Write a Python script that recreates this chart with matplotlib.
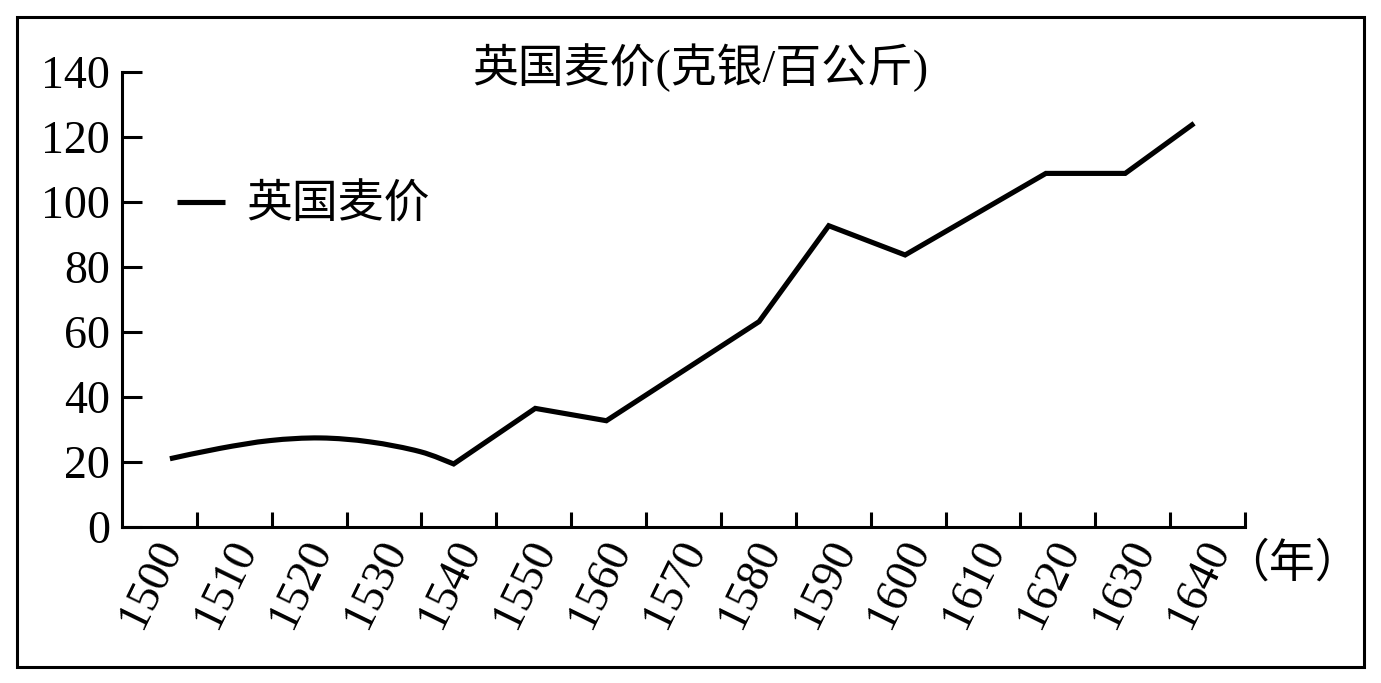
import matplotlib
matplotlib.use("Agg")
import matplotlib.pyplot as plt
from matplotlib.patches import Rectangle, PathPatch
from matplotlib.path import Path
from matplotlib.lines import Line2D
from matplotlib.transforms import ScaledTranslation, blended_transform_factory

# ---- data ----
year_pos = [1496.4, 1503.1, 1509.8, 1516.5, 1523.1, 1529.8, 1534.3,
            1545.2, 1554.7, 1575.1, 1584.4, 1594.6, 1613.4, 1624.0, 1633.2]
price = [21.0, 24.2, 26.6, 27.4, 26.2, 23.2, 19.4,
         36.5, 32.7, 63.2, 92.7, 83.7, 108.8, 108.8, 124.2]
n_smooth = 7  # the first points form a smooth arc in the reference
x_ticks = list(range(1500, 1641, 10))
x_labels = [str(v) for v in x_ticks]
y_ticks = list(range(0, 141, 20))
series_name = "英国麦价"
title = "英国麦价(克银/百公斤)"
x_unit = "（年）"

W, H = 1381, 683
fig = plt.figure(figsize=(W / 100, H / 100), dpi=100)
fam = ["Liberation Serif", "Noto Sans CJK SC"]
plt.rcParams["font.family"] = fam

L, R, T, B = 122, 1245, 72, 527
ax = fig.add_axes([L / W, 1 - B / H, (R - L) / W, (B - T) / H])
ax.set_xlim(1490, 1640)
ax.set_ylim(0, 140)

# build path: smooth (Catmull-Rom as Bezier) for arc part, straight afterwards
pts = list(zip(year_pos, price))
verts = [pts[0]]
codes = [Path.MOVETO]
for i in range(n_smooth - 1):
    p0 = pts[i - 1] if i > 0 else pts[i]
    p1 = pts[i]
    p2 = pts[i + 1]
    p3 = pts[i + 2] if i + 2 < n_smooth else pts[i + 1]
    c1 = (p1[0] + (p2[0] - p0[0]) / 6, p1[1] + (p2[1] - p0[1]) / 6)
    c2 = (p2[0] - (p3[0] - p1[0]) / 6, p2[1] - (p3[1] - p1[1]) / 6)
    verts += [c1, c2, p2]
    codes += [Path.CURVE4] * 3
for p in pts[n_smooth:]:
    verts.append(p)
    codes.append(Path.LINETO)
LW = 3.7
ax.add_patch(PathPatch(Path(verts, codes), fill=False, edgecolor="black",
                       lw=LW, capstyle="butt", joinstyle="miter"))

for s in ["top", "right"]:
    ax.spines[s].set_visible(False)
for s in ["left", "bottom"]:
    ax.spines[s].set_linewidth(2.2)

ax.set_yticks(y_ticks)
ax.set_yticklabels([str(v) for v in y_ticks], fontsize=33)
ax.tick_params(axis="y", direction="in", length=14.4, width=2.2, pad=8.5)

ax.set_xticks(x_ticks)
ax.set_xticklabels([])
ax.tick_params(axis="x", direction="in", length=11, width=2.2)
btr = blended_transform_factory(ax.transData, ax.transAxes)
off = ScaledTranslation(-0.45, -0.06, fig.dpi_scale_trans)
for xv, lab in zip(x_ticks, x_labels):
    ax.text(xv, 0, lab, transform=btr + off, fontsize=33, rotation=64,
            ha="right", va="top", rotation_mode="anchor", clip_on=False)

# title
fig.text(700 / W, 1 - 68 / H, title, fontsize=33, ha="center", va="center",
         family=fam)
# x unit
fig.text(1292 / W, 1 - 565 / H, x_unit, fontsize=33, ha="center", va="center",
         family=fam)

# legend
handle = Line2D([], [], color="black", lw=LW, solid_capstyle="butt")
leg = ax.legend([handle], [series_name], loc="center left",
                bbox_to_anchor=((177 - L) / (R - L), (B - 206) / (B - T)),
                frameon=False, handlelength=1.05, handletextpad=0.45,
                borderpad=0, borderaxespad=0, prop={"family": fam, "size": 33})

# outer frame
fig.add_artist(Rectangle((17 / W, 1 - 667 / H), (1364 - 17) / W, (667 - 17) / H,
                         transform=fig.transFigure, fill=False, lw=2.2,
                         edgecolor="black"))

fig.savefig("out.png", dpi=100)
